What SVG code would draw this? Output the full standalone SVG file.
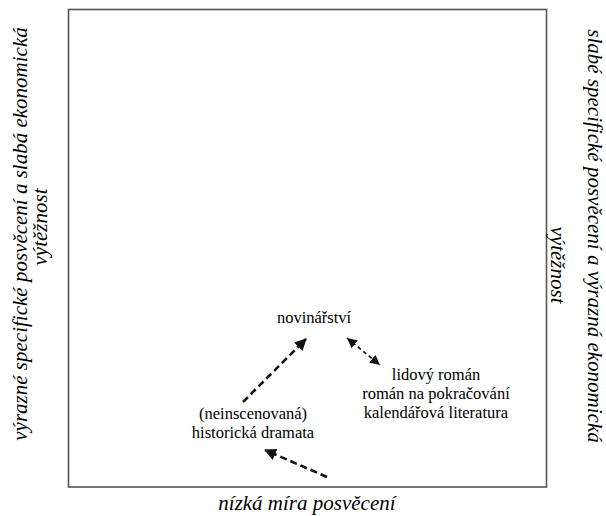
<svg xmlns="http://www.w3.org/2000/svg" width="606" height="516" viewBox="0 0 606 516">
<defs>
<marker id="ah" markerUnits="userSpaceOnUse" markerWidth="14" markerHeight="14" refX="11" refY="6" orient="auto">
<path d="M0,0 L12,6 L0,12 z" fill="#111"/>
</marker>
<marker id="ahs" markerUnits="userSpaceOnUse" markerWidth="12" markerHeight="12" refX="10" refY="5" orient="auto-start-reverse">
<path d="M0,0 L10,5 L0,10 z" fill="#111"/>
</marker>
</defs>
<rect id="frame" x="68.5" y="9.5" width="478" height="477.5" fill="none" stroke="#555" stroke-width="1.6"/>
<g id="axis-labels">
<text font-family="Liberation Serif" font-size="21" font-style="italic" transform="translate(27,440.7) rotate(-90)">výrazné specifické posvěcení a slabá ekonomická</text>
<text font-family="Liberation Serif" font-size="21" font-style="italic" transform="translate(47,265.5) rotate(-90)">výtěžnost</text>
<text font-family="Liberation Serif" font-size="21" font-style="italic" transform="translate(588,29.3) rotate(90)">slabé specifické posvěcení a výrazná ekonomická</text>
<text font-family="Liberation Serif" font-size="21" font-style="italic" transform="translate(551,226.5) rotate(90)">výtěžnost</text>
<text font-family="Liberation Serif" font-size="21" font-style="italic" x="218.3" y="510">nízká míra posvěcení</text>
</g>
<g id="node-novinarstvi"><text font-family="Liberation Serif" font-size="16.5" x="276.9" y="323">novinářství</text></g>
<g id="node-lidovy"><text font-family="Liberation Serif" font-size="16.5" x="391.8" y="380">lidový román</text><text font-family="Liberation Serif" font-size="16.5" x="362.2" y="399">román na pokračování</text><text font-family="Liberation Serif" font-size="16.5" x="363.8" y="418">kalendářová literatura</text></g>
<g id="node-dramata"><text font-family="Liberation Serif" font-size="16.5" x="199" y="419">(neinscenovaná)</text><text font-family="Liberation Serif" font-size="16.5" x="191.8" y="438">historická dramata</text></g>
<g id="connectors" fill="none" stroke="#111">
<line stroke-width="2.6" stroke-dasharray="7 4" x1="243" y1="402" x2="306" y2="339" marker-end="url(#ah)"/>
<line stroke-width="1.6" stroke-dasharray="4 3" x1="347" y1="338" x2="380" y2="365" marker-start="url(#ahs)" marker-end="url(#ahs)"/>
<line stroke-width="2.6" stroke-dasharray="7 4" x1="327" y1="477" x2="265" y2="450" marker-end="url(#ah)"/>
</g>
</svg>
